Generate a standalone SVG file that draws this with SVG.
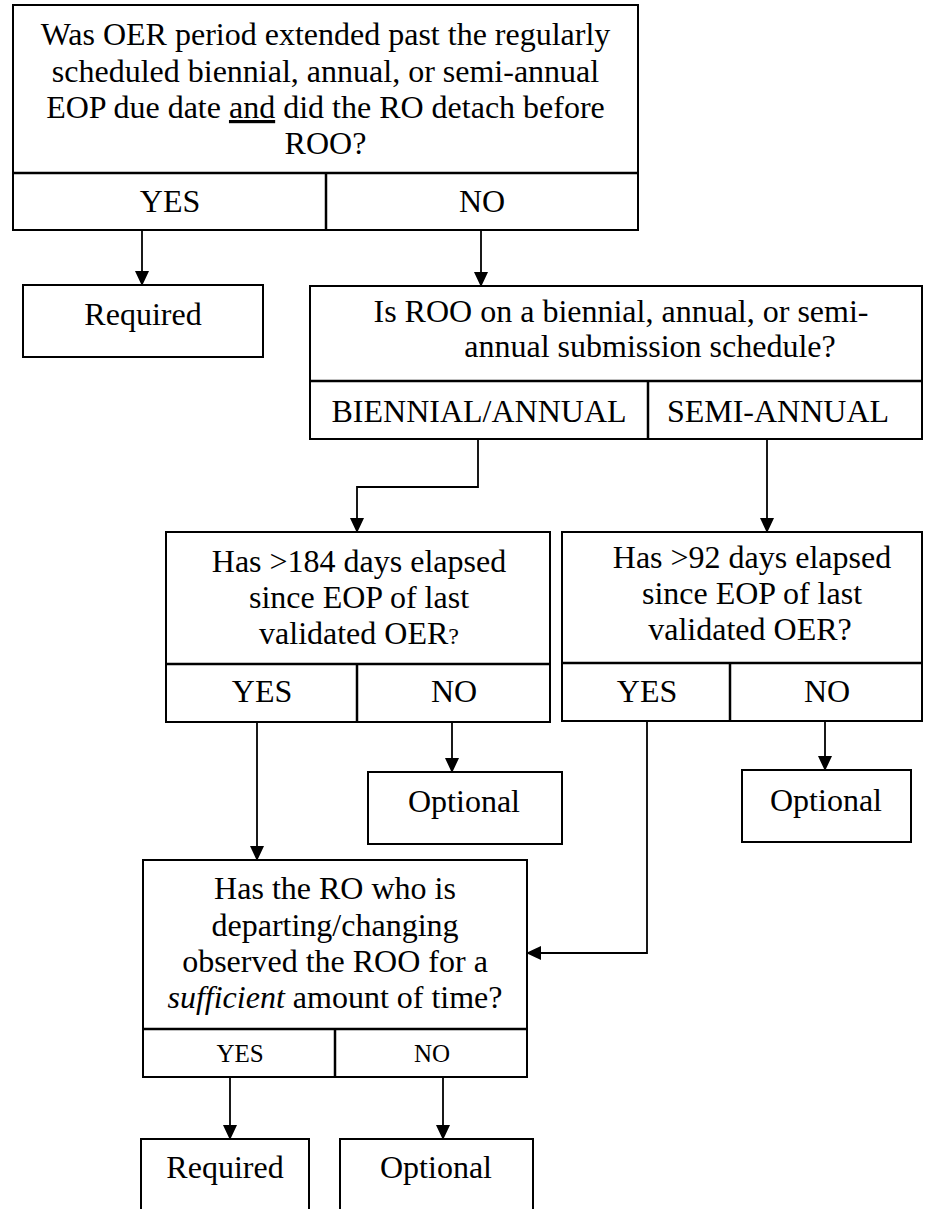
<svg xmlns="http://www.w3.org/2000/svg" width="928" height="1209" viewBox="0 0 928 1209">
<style>
.box{fill:#fff;stroke:#000;stroke-width:2}
.div{fill:none;stroke:#000;stroke-width:2.5}
text{font-family:'Liberation Serif','Times New Roman','DejaVu Serif',serif;font-size:32px;fill:#000;text-anchor:middle}
.s{font-size:25px}
.c{fill:none;stroke:#000;stroke-width:1.8}
</style>
<defs>
<marker id="ah" markerUnits="userSpaceOnUse" markerWidth="15" markerHeight="15" refX="14" refY="7" orient="auto">
<path d="M0,0 L15,7 L0,14 Z" fill="#000"/>
</marker>
</defs>
<g id="connectors">
<line class="c" x1="142" y1="230" x2="142" y2="285" marker-end="url(#ah)"/>
<line class="c" x1="481" y1="230" x2="481" y2="286" marker-end="url(#ah)"/>
<polyline class="c" points="478,439 478,487 357,487 357,532" marker-end="url(#ah)"/>
<line class="c" x1="767" y1="439" x2="767" y2="532" marker-end="url(#ah)"/>
<line class="c" x1="257" y1="722" x2="257" y2="860" marker-end="url(#ah)"/>
<line class="c" x1="452" y1="722" x2="452" y2="772" marker-end="url(#ah)"/>
<line class="c" x1="825" y1="721" x2="825" y2="770" marker-end="url(#ah)"/>
<polyline class="c" points="647,721 647,953 527,953" marker-end="url(#ah)"/>
<line class="c" x1="230" y1="1077" x2="230" y2="1139" marker-end="url(#ah)"/>
<line class="c" x1="443" y1="1077" x2="443" y2="1139" marker-end="url(#ah)"/>
</g>
<g id="q1">
<rect class="box" x="13" y="5" width="625" height="225"/>
<line class="div" x1="13" y1="173" x2="638" y2="173"/>
<line class="div" x1="326" y1="173" x2="326" y2="230"/>
<text x="325.5" y="45">Was OER period extended past the regularly</text>
<text x="325.5" y="82">scheduled biennial, annual, or semi-annual</text>
<text x="325.5" y="118">EOP due date <tspan text-decoration="underline">and</tspan> did the RO detach before</text>
<text x="325.5" y="154">ROO?</text>
<text x="170" y="212">YES</text>
<text x="482" y="212">NO</text>
</g>
<g id="r1">
<rect class="box" x="23" y="285" width="240" height="72"/>
<text x="143" y="325">Required</text>
</g>
<g id="q2">
<rect class="box" x="310" y="286" width="612" height="153"/>
<line class="div" x1="310" y1="381" x2="922" y2="381"/>
<line class="div" x1="648" y1="381" x2="648" y2="439"/>
<text x="621" y="322">Is ROO on a biennial, annual, or semi-</text>
<text x="650" y="357">annual submission schedule?</text>
<text x="479" y="422">BIENNIAL/ANNUAL</text>
<text x="778" y="422">SEMI-ANNUAL</text>
</g>
<g id="q3">
<rect class="box" x="166" y="532" width="384" height="190"/>
<line class="div" x1="166" y1="664" x2="550" y2="664"/>
<line class="div" x1="357" y1="664" x2="357" y2="722"/>
<text x="359" y="572">Has &gt;184 days elapsed</text>
<text x="359" y="608">since EOP of last</text>
<text x="359" y="644">validated OER<tspan style="font-size:24px">?</tspan></text>
<text x="262" y="702">YES</text>
<text x="454" y="702">NO</text>
</g>
<g id="q4">
<rect class="box" x="562" y="532" width="360" height="189"/>
<line class="div" x1="562" y1="663" x2="922" y2="663"/>
<line class="div" x1="730" y1="663" x2="730" y2="721"/>
<text x="752" y="568">Has &gt;92 days elapsed</text>
<text x="752" y="604">since EOP of last</text>
<text x="750" y="640">validated OER?</text>
<text x="647" y="702">YES</text>
<text x="827" y="702">NO</text>
</g>
<g id="o1">
<rect class="box" x="368" y="772" width="194" height="72"/>
<text x="464" y="812">Optional</text>
</g>
<g id="o2">
<rect class="box" x="742" y="770" width="169" height="72"/>
<text x="826" y="811">Optional</text>
</g>
<g id="q5">
<rect class="box" x="143" y="860" width="384" height="217"/>
<line class="div" x1="143" y1="1029" x2="527" y2="1029"/>
<line class="div" x1="335" y1="1029" x2="335" y2="1077"/>
<text x="335" y="899">Has the RO who is</text>
<text x="335" y="936">departing/changing</text>
<text x="335" y="972">observed the ROO for a</text>
<text x="335" y="1008"><tspan font-style="italic">sufficient</tspan> amount of time?</text>
<text class="s" x="240" y="1062">YES</text>
<text class="s" x="432" y="1062">NO</text>
</g>
<g id="r2">
<rect class="box" x="141" y="1139" width="168" height="90"/>
<text x="225" y="1178">Required</text>
</g>
<g id="o3">
<rect class="box" x="340" y="1139" width="193" height="90"/>
<text x="436" y="1178">Optional</text>
</g>
</svg>
